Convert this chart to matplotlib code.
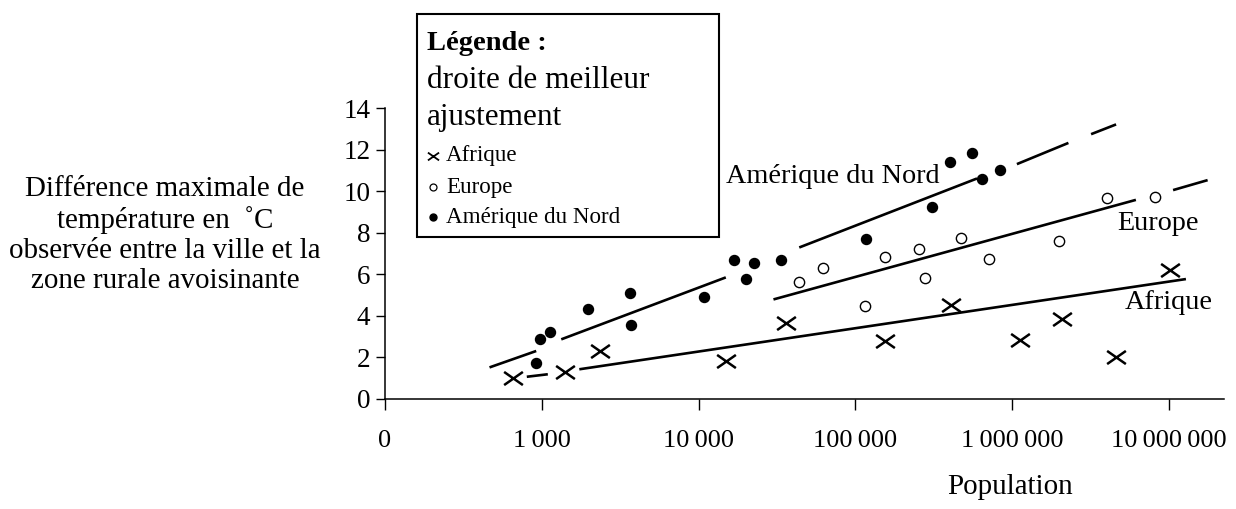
import matplotlib
matplotlib.use("Agg")
import matplotlib.pyplot as plt
from matplotlib.lines import Line2D
from matplotlib.patches import Rectangle
from matplotlib.path import Path
import numpy as np

plt.rcParams['font.family'] = ['Liberation Serif', 'DejaVu Serif']

W, H = 1236, 509

# Data (population, temperature difference in deg C)
afrique_pop = [659, 1396, 2362, 15000, 36300, 155000, 408000, 1.12e6, 2.08e6, 4.59e6, 1.02e7]
afrique_dt = [1.00, 1.31, 2.32, 1.84, 3.67, 2.80, 4.52, 2.84, 3.85, 2.00, 6.20]

europe_pop = [43400, 61700, 115000, 154000, 254000, 277000, 469000, 708000, 1.98e6, 4.0e6, 8.07e6]
europe_dt = [5.61, 6.28, 4.47, 6.84, 7.20, 5.83, 7.75, 6.73, 7.61, 9.65, 9.73]

amerique_pop = [916, 967, 1120, 1968, 3636, 3730, 10770, 16750, 20000, 22500, 33700,
                117000, 307000, 398000, 551000, 638000, 832000]
amerique_dt = [1.75, 2.88, 3.21, 4.33, 5.11, 3.56, 4.89, 6.68, 5.78, 6.55, 6.68,
               7.68, 9.25, 11.38, 11.84, 10.58, 11.02]

# Best-fit lines, drawn as broken pieces: ((x0, x1), (y0, y1))
amerique_fit = [((464, 921), (1.52, 2.31)),
                ((1330, 14900), (2.87, 5.85)),
                ((43800, 596000), (7.29, 10.61)),
                ((1.07e6, 2.28e6), (11.30, 12.32)),
                ((3.18e6, 4.59e6), (12.74, 13.21))]
europe_fit = [((30000, 6.14e6), (4.79, 9.58)),
              ((1.06e7, 1.76e7), (10.05, 10.53))]
afrique_fit = [((802, 1092), (1.07, 1.19)),
               ((1734, 1.28e7), (1.43, 5.77))]

x_ticks = [1e2, 1e3, 1e4, 1e5, 1e6, 1e7]
x_ticklabels = ["0", "1\u2009000", "10\u2009000", "100\u2009000", "1\u2009000\u2009000", "10\u2009000\u2009000"]
y_ticks = list(range(0, 15, 2))


def fx(x):
    return x / W


def fy(y):
    return 1 - y / H


# wide, flat cross marker as in the original
cross = Path([(-1, -0.7), (1, 0.7), (-1, 0.7), (1, -0.7)],
             [Path.MOVETO, Path.LINETO, Path.MOVETO, Path.LINETO])

fig = plt.figure(figsize=(W / 100, H / 100), dpi=100)
ax = fig.add_axes([fx(385), fy(399), fx(1224) - fx(385), fy(108) - fy(399)])

ax.set_xscale('log')
ax.set_xlim(1e2, 10 ** 7.35)
ax.set_ylim(0, 14)

for (xs, ys) in amerique_fit + europe_fit + afrique_fit:
    ax.plot(xs, ys, color='black', lw=1.9, solid_capstyle='butt')

ax.plot(afrique_pop, afrique_dt, ls='none', marker=cross, ms=13.5, mew=1.8,
        color='black', clip_on=False)
ax.plot(europe_pop, europe_dt, ls='none', marker='o', ms=7.4, mfc='white',
        mec='black', mew=1.0, clip_on=False)
ax.plot(amerique_pop, amerique_dt, ls='none', marker='o', ms=7.2, mfc='black',
        mec='black', clip_on=False)

# Line labels
ax.text(14860, 10.69, "Amérique du Nord", fontsize=20.3, ha='left', va='center')
ax.text(4.66e6, 8.46, "Europe", fontsize=20.3, ha='left', va='center')
ax.text(5.24e6, 4.62, "Afrique", fontsize=20.3, ha='left', va='center')

# Axes style
for s in ['top', 'right']:
    ax.spines[s].set_visible(False)
for s in ['left', 'bottom']:
    ax.spines[s].set_linewidth(1.1)
ax.xaxis.set_minor_locator(plt.NullLocator())
ax.set_xticks(x_ticks)
ax.set_xticklabels(x_ticklabels)
ax.set_yticks(y_ticks)
ax.tick_params(axis='x', length=8, width=1, pad=14, labelsize=19)
ax.tick_params(axis='y', length=6.5, width=1, pad=4, labelsize=19.5)

# Axis titles
fig.text(fx(165), fy(235), "Différence maximale de\ntempérature en  ˚C\nobservée entre la ville et la\nzone rurale avoisinante",
         ha='center', va='center', fontsize=20.9, linespacing=1.2)
fig.text(fx(1010), fy(487), "Population", ha='center', va='center', fontsize=20.9)

# Legend box
fig.add_artist(Rectangle((fx(417), fy(237)), fx(719) - fx(417), fy(14) - fy(237),
                         transform=fig.transFigure, fill=False, ec='black', lw=1.5))
fig.text(fx(427), fy(43), "Légende :", fontsize=20.5, fontweight='bold', ha='left', va='center')
fig.text(fx(427), fy(80), "droite de meilleur", fontsize=22.5, ha='left', va='center')
fig.text(fx(427), fy(118), "ajustement", fontsize=22.5, ha='left', va='center')

leg_labels = ["Afrique", "Europe", "Amérique du Nord"]
leg_y = [156, 187, 217]
leg_style = [dict(marker=cross, ms=8, mew=1.3, color='black'),
             dict(marker='o', ms=5, mfc='white', mec='black', mew=0.9),
             dict(marker='o', ms=5, mfc='black', mec='black')]
for lab, yy, st in zip(leg_labels, leg_y, leg_style):
    fig.add_artist(Line2D([fx(433)], [fy(yy)], transform=fig.transFigure, ls='none', **st))
    fig.text(fx(446), fy(yy), lab, fontsize=16.6, ha='left', va='center')

fig.savefig("out.png", dpi=100)
